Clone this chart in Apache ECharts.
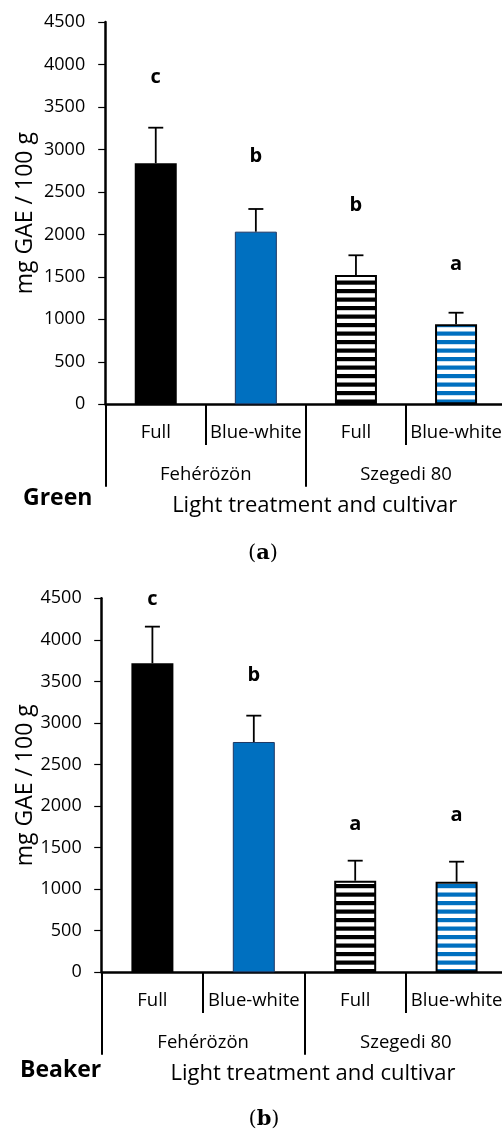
<!DOCTYPE html>
<html>
<head>
<meta charset="utf-8">
<script src="https://cdn.jsdelivr.net/npm/echarts@6/dist/echarts.min.js"></script>
<style>
html,body{margin:0;padding:0;background:#fff;}
#chart{width:502px;height:1131px;}
</style>
</head>
<body>
<div id="chart"></div>
<script>
// ---- data ----
const categories = ['Full', 'Blue-white', 'Full', 'Blue-white'];
const cultivars = ['Fehérözön', 'Szegedi 80'];
const greenMeans = [2837, 2032, 1522, 942];
const greenErrors = [419, 267, 232, 136];
const greenLetters = ['c', 'b', 'b', 'a'];
const greenLetterY = [3849, 2914, 2338, 1643];
const beakerMeans = [3718, 2771, 1102, 1090];
const beakerErrors = [441, 317, 241, 241];
const beakerLetters = ['c', 'b', 'a', 'a'];
const beakerLetterY = [4492, 3569, 1785, 1884];
const yMin = 0, yMax = 4500, yStep = 500;
const xTitle = 'Light treatment and cultivar';
const yTitle = 'mg GAE / 100 g';
const panelNames = ['Green', 'Beaker'];
const panelTags = ['a', 'b'];

// ---- styles ----
const FONT = '"Open Sans", "Noto Sans", sans-serif';
const BLUE = '#0070C0';
function stripe(color) {
  const c = document.createElement('canvas');
  c.width = 4; c.height = 17;
  const ctx = c.getContext('2d');
  ctx.fillStyle = '#fff'; ctx.fillRect(0, 0, 4, 17);
  ctx.fillStyle = color;
  ctx.fillRect(0, 0, 4, 4.2);
  ctx.fillRect(0, 8.5, 4, 4.2);
  return { image: c, repeat: 'repeat' };
}
const barStyles = [
  { color: '#000', borderColor: '#000', borderWidth: 0 },
  { color: BLUE, borderColor: '#1f3864', borderWidth: 1 },
  { color: stripe('#000'), borderColor: '#000', borderWidth: 2 },
  { color: stripe(BLUE), borderColor: '#000', borderWidth: 2 }
];

const panels = [
  { left: 105.7, top: 22, width: 400.4, height: 382.3, labelMargin: 20.5, nameGap: 67, titlePad: 17.6 },
  { left: 101.7, top: 598.3, width: 405.6, height: 374, labelMargin: 20, nameGap: 63, titlePad: 17 }
];
const panelData = [
  { means: greenMeans, errs: greenErrors, letters: greenLetters, ly: greenLetterY },
  { means: beakerMeans, errs: beakerErrors, letters: beakerLetters, ly: beakerLetterY }
];

const grid = [], xAxis = [], yAxis = [], series = [];
panels.forEach((p, k) => {
  const g = { left: p.left, top: p.top, width: p.width, height: p.height, containLabel: false, outerBoundsMode: 'none' };
  grid.push(Object.assign({}, g));       // main grid 2k
  grid.push(Object.assign({}, g));       // overlay grid for cultivar level 2k+1
  const gi = 2 * k;
  xAxis.push({
    type: 'category', gridIndex: gi, data: categories,
    axisLine: { lineStyle: { color: '#000', width: 2.5 } },
    axisTick: { show: true, interval: 0, length: 40.7, lineStyle: { color: '#000', width: 2 } },
    axisLabel: { color: '#000', fontSize: 18.5, fontFamily: FONT, margin: 18.6, lineHeight: 20, interval: 0, hideOverlap: false },
    splitLine: { show: false }
  });
  xAxis.push({
    type: 'category', gridIndex: gi + 1, data: cultivars, position: 'bottom',
    axisLine: { show: false },
    axisTick: { show: true, interval: 0, length: 82.5, lineStyle: { color: '#000', width: 2 } },
    axisLabel: { color: '#000', fontSize: 18.5, fontFamily: FONT, margin: 60.4, lineHeight: 20, interval: 0 },
    name: xTitle, nameLocation: 'middle', nameGap: 88.6, nameMoveOverlap: false,
    nameTextStyle: { color: '#000', fontSize: 22, fontFamily: FONT, lineHeight: 26, padding: [0, 0, 0, p.titlePad] },
    splitLine: { show: false }
  });
  yAxis.push({
    type: 'value', gridIndex: gi, min: yMin, max: yMax, interval: yStep,
    axisLine: { show: true, lineStyle: { color: '#000', width: 2.5 } },
    axisTick: { show: true, length: 7.5, lineStyle: { color: '#000', width: 1.2 } },
    axisLabel: { color: '#000', fontSize: 18, fontFamily: FONT, margin: p.labelMargin, formatter: v => String(v) },
    splitLine: { show: false },
    name: yTitle, nameLocation: 'middle', nameGap: p.nameGap, nameMoveOverlap: false,
    nameTextStyle: { color: '#000', fontSize: 23, fontFamily: FONT, lineHeight: 26 }
  });
  yAxis.push({ type: 'value', gridIndex: gi + 1, show: false, min: yMin, max: yMax });

  const d = panelData[k];
  series.push({
    type: 'bar', xAxisIndex: 2 * k, yAxisIndex: 2 * k, barWidth: 42,
    data: d.means.map((v, i) => ({ value: v, itemStyle: barStyles[i] })),
    animation: false
  });
  series.push({
    type: 'custom', xAxisIndex: 2 * k, yAxisIndex: 2 * k, animation: false, z: 5,
    data: d.means.map((v, i) => [i, v, v + d.errs[i], d.ly[i]]),
    renderItem: (params, api) => {
      const base = api.coord([api.value(0), api.value(1)]);
      const top = api.coord([api.value(0), api.value(2)]);
      const lab = api.coord([api.value(0), api.value(3)]);
      const ls = { stroke: '#000', lineWidth: 1.8 };
      return {
        type: 'group',
        children: [
          { type: 'line', shape: { x1: base[0], y1: base[1], x2: top[0], y2: top[1] }, style: ls },
          { type: 'line', shape: { x1: top[0] - 7.5, y1: top[1], x2: top[0] + 7.5, y2: top[1] }, style: ls },
          { type: 'text', x: lab[0], y: lab[1], style: {
              text: d.letters[params.dataIndex], fill: '#000',
              font: 'bold 20px ' + FONT, align: 'center', verticalAlign: 'middle' } }
        ]
      };
    }
  });
});

const serif = '"DejaVu Serif", serif';
const tagRich = { p: { fontFamily: serif, fontSize: 21, fill: '#000' }, b: { fontFamily: serif, fontSize: 21, fontWeight: 'bold', fill: '#000' } };
const graphic = [
  { type: 'text', x: 23, y: 498.5, style: { text: panelNames[0], fill: '#000', font: 'bold 23px ' + FONT, verticalAlign: 'middle' } },
  { type: 'text', x: 20, y: 1070.5, style: { text: panelNames[1], fill: '#000', font: 'bold 23px ' + FONT, verticalAlign: 'middle' } },
  { type: 'text', x: 263, y: 553.4, style: { text: '{p|(}{b|' + panelTags[0] + '}{p|)}', align: 'center', verticalAlign: 'middle', rich: tagRich } },
  { type: 'text', x: 264, y: 1120, style: { text: '{p|(}{b|' + panelTags[1] + '}{p|)}', align: 'center', verticalAlign: 'middle', rich: tagRich } }
];

const chart = echarts.init(document.getElementById('chart'), null, { renderer: 'canvas' });
chart.setOption({
  backgroundColor: '#fff',
  animation: false,
  textStyle: { fontFamily: FONT },
  grid, xAxis, yAxis, series, graphic
});
</script>
</body>
</html>
